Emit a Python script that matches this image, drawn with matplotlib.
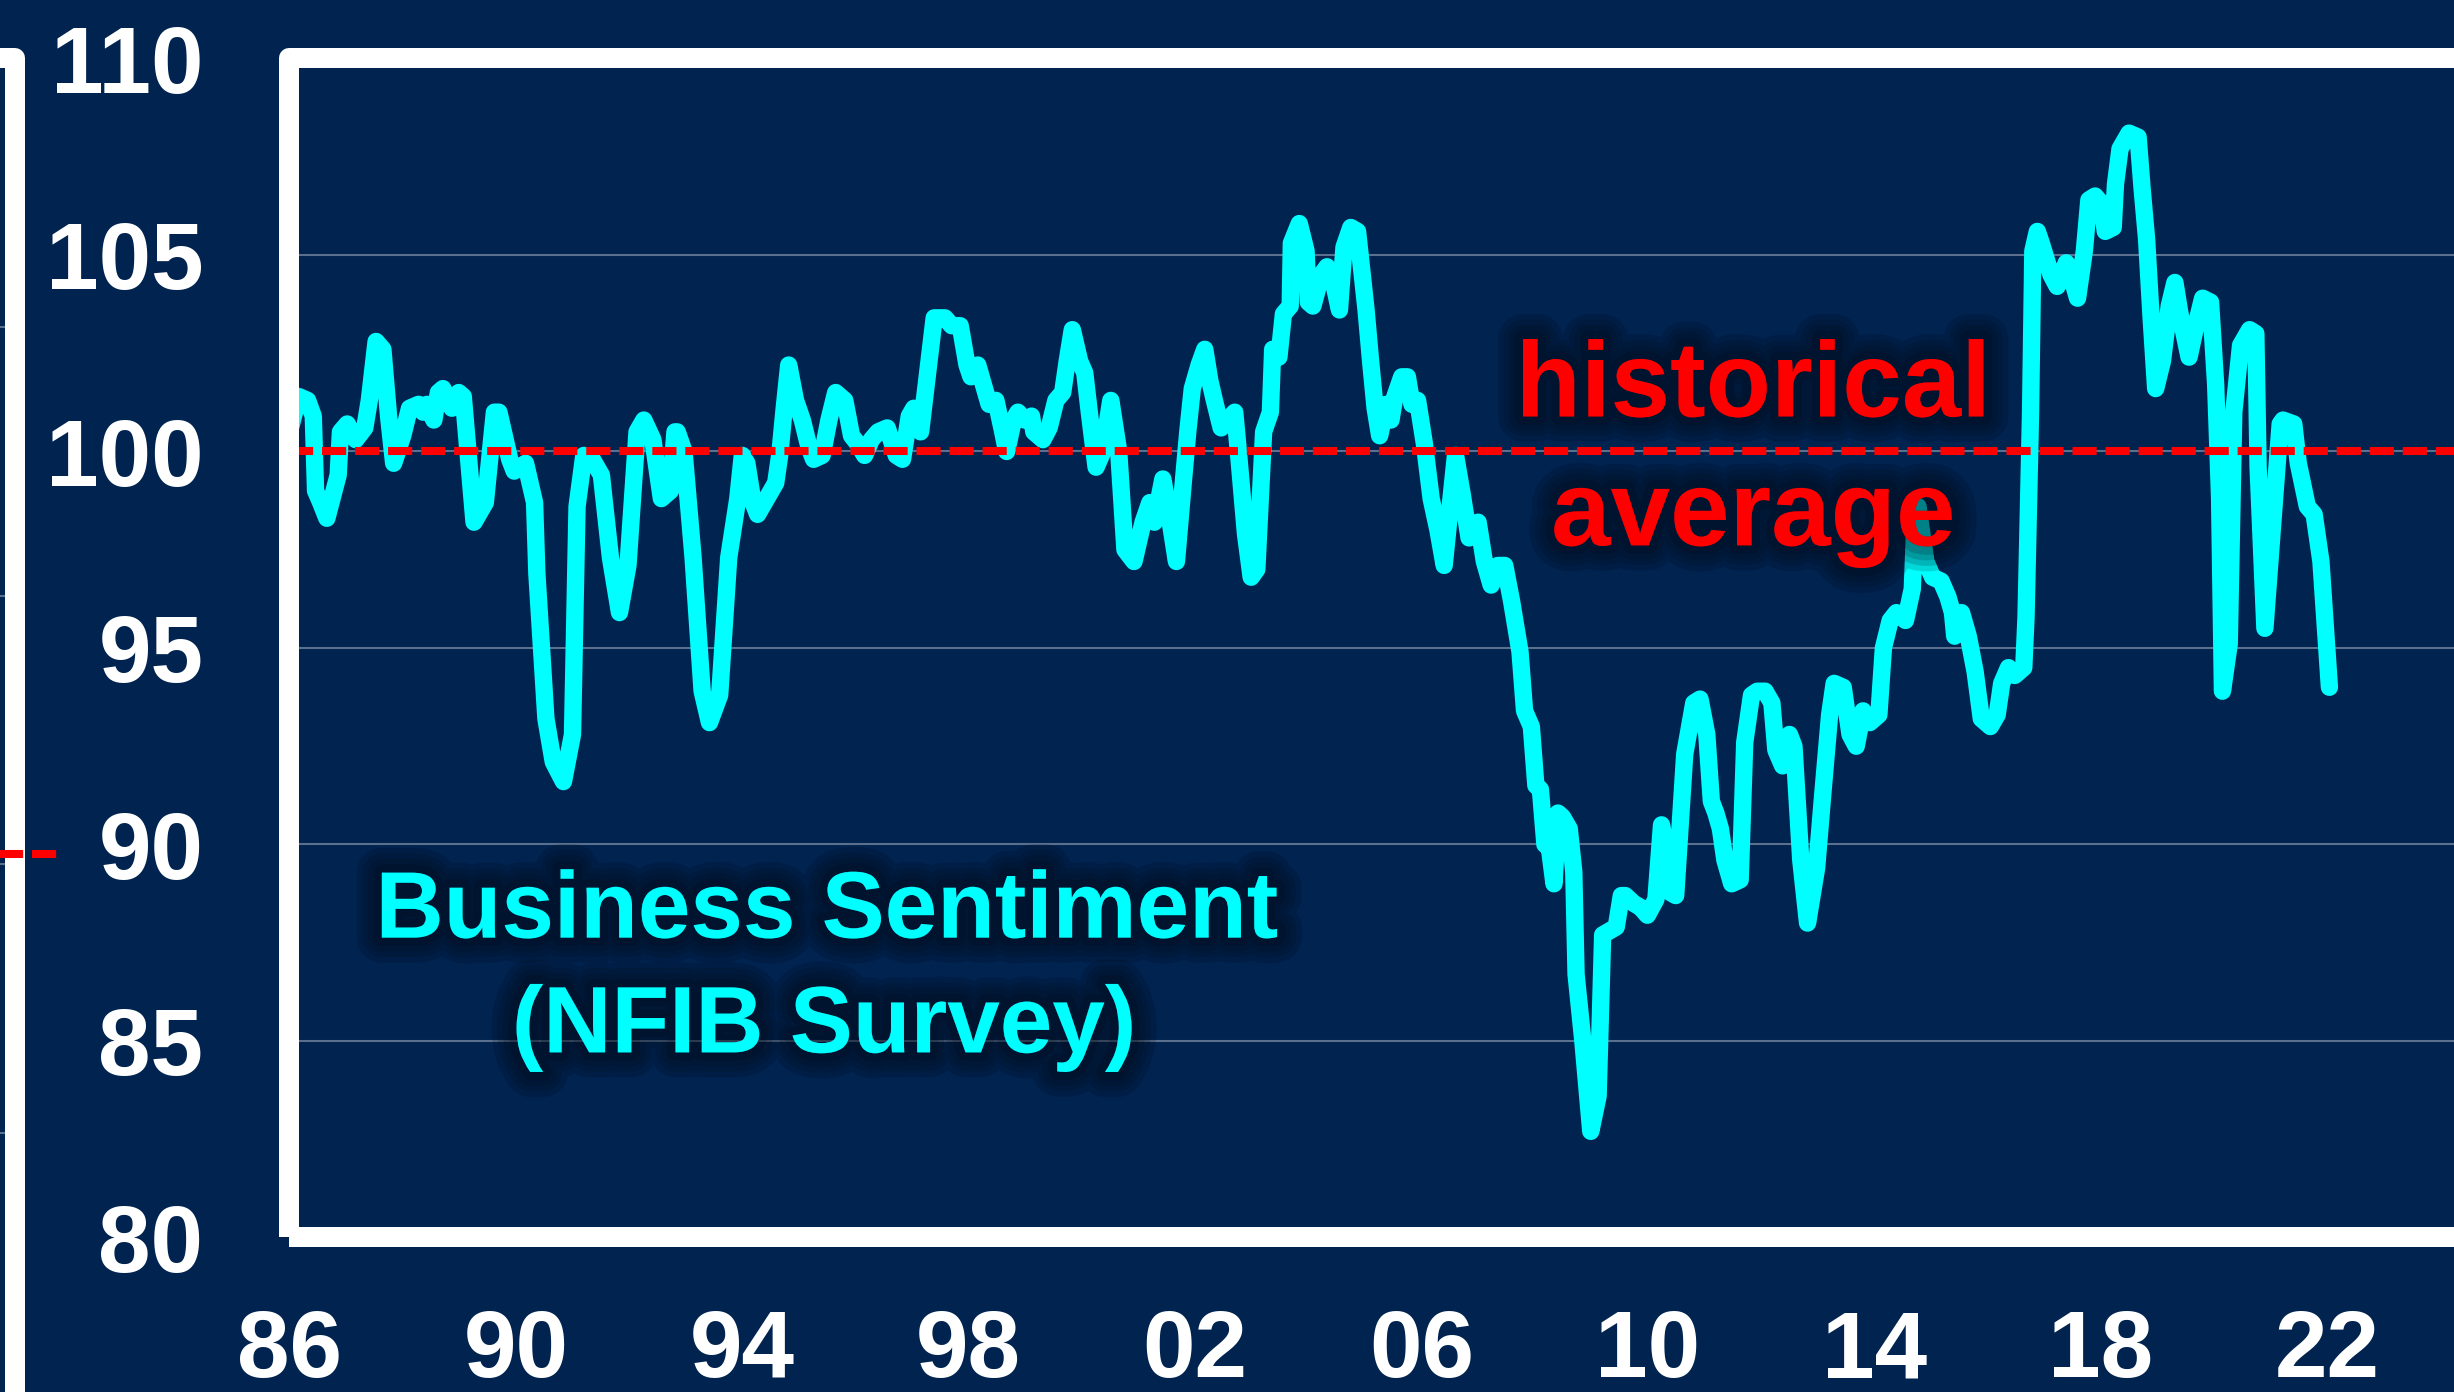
import matplotlib
matplotlib.use('Agg')
import matplotlib.pyplot as plt
import matplotlib.patheffects as pe
from matplotlib.patches import Rectangle

# ----------------------------------------------------------------------
# Data: NFIB small business optimism (decimal year)
# ----------------------------------------------------------------------
dates = [
    1986.00, 1986.16, 1986.32, 1986.42, 1986.46, 1986.55, 1986.66, 1986.86, 1986.90,
    1987.02, 1987.17, 1987.33, 1987.41, 1987.53, 1987.65, 1987.75, 1987.84,
    1988.00, 1988.12, 1988.28, 1988.36, 1988.43, 1988.55, 1988.63, 1988.71, 1988.87, 1988.99,
    1989.07, 1989.26, 1989.46, 1989.62, 1989.70, 1989.89, 1989.97,
    1990.17, 1990.33, 1990.37, 1990.53, 1990.66, 1990.84,
    1991.00, 1991.08, 1991.20, 1991.35, 1991.51, 1991.67, 1991.83, 1991.98,
    1992.14, 1992.26, 1992.42, 1992.57, 1992.73, 1992.81, 1992.85, 1992.97,
    1993.13, 1993.29, 1993.42, 1993.60, 1993.76, 1993.92,
    1994.00, 1994.08, 1994.19, 1994.27, 1994.43, 1994.59, 1994.66, 1994.74, 1994.82, 1994.94,
    1995.06, 1995.18, 1995.26, 1995.41, 1995.53, 1995.65, 1995.81, 1995.93,
    1996.04, 1996.16, 1996.28, 1996.40, 1996.56, 1996.72, 1996.83, 1996.95,
    1997.03, 1997.15, 1997.39, 1997.58, 1997.70, 1997.85, 1997.97,
    1998.04, 1998.16, 1998.28, 1998.36, 1998.48, 1998.60, 1998.67, 1998.79, 1998.87, 1998.99,
    1999.11, 1999.15, 1999.31, 1999.42, 1999.54, 1999.66, 1999.74, 1999.83, 1999.96,
    2000.05, 2000.13, 2000.25, 2000.37, 2000.51, 2000.65, 2000.76, 2000.92,
    2001.08, 2001.20, 2001.28, 2001.43, 2001.55, 2001.67, 2001.79, 2001.87, 2001.95,
    2002.07, 2002.17, 2002.26, 2002.34, 2002.46, 2002.58, 2002.70, 2002.77, 2002.89, 2002.99,
    2003.09, 2003.21, 2003.33, 2003.37, 2003.48, 2003.56, 2003.68, 2003.70, 2003.84, 2003.96,
    2004.00, 2004.08, 2004.23, 2004.33, 2004.43, 2004.55, 2004.63, 2004.75, 2004.87,
    2005.02, 2005.10, 2005.18, 2005.26, 2005.38, 2005.46, 2005.53, 2005.65, 2005.75, 2005.83, 2005.93,
    2006.05, 2006.17, 2006.29, 2006.40, 2006.52, 2006.60, 2006.72, 2006.84,
    2007.00, 2007.11, 2007.23, 2007.35, 2007.47, 2007.59, 2007.74, 2007.82, 2007.94,
    2008.02, 2008.10, 2008.18, 2008.26, 2008.34, 2008.41, 2008.49, 2008.61, 2008.69, 2008.73, 2008.85, 2008.99,
    2009.12, 2009.20, 2009.32, 2009.44, 2009.53, 2009.60, 2009.75, 2009.87, 2009.99,
    2010.14, 2010.24, 2010.33, 2010.37, 2010.49, 2010.65, 2010.81, 2010.92,
    2011.04, 2011.12, 2011.20, 2011.28, 2011.36, 2011.48, 2011.63, 2011.71, 2011.83, 2011.93,
    2012.07, 2012.19, 2012.26, 2012.38, 2012.50, 2012.58, 2012.70, 2012.82, 2012.98,
    2013.09, 2013.21, 2013.29, 2013.45, 2013.57, 2013.68, 2013.80, 2013.92,
    2014.08, 2014.16, 2014.28, 2014.39, 2014.55, 2014.67, 2014.71, 2014.77, 2014.91,
    2015.03, 2015.18, 2015.30, 2015.38, 2015.42, 2015.54, 2015.66, 2015.78, 2015.89,
    2016.05, 2016.17, 2016.25, 2016.37, 2016.48, 2016.64, 2016.68, 2016.76, 2016.80, 2016.88, 2016.95,
    2017.12, 2017.23, 2017.39, 2017.47, 2017.59, 2017.71, 2017.79, 2017.90,
    2018.02, 2018.08, 2018.22, 2018.26, 2018.34, 2018.50, 2018.66, 2018.73, 2018.81, 2018.89, 2018.97,
    2019.09, 2019.21, 2019.31, 2019.40, 2019.56, 2019.68, 2019.80, 2019.94,
    2020.03, 2020.10, 2020.15, 2020.27, 2020.35, 2020.47, 2020.63, 2020.74, 2020.78, 2020.90,
    2021.17, 2021.22, 2021.41, 2021.49, 2021.65, 2021.77, 2021.89, 2022.04,
]
nfib = [
    100.5, 101.4, 101.3, 100.9, 99.0, 98.7, 98.3, 99.4, 100.5,
    100.7, 100.3, 100.6, 101.3, 102.8, 102.6, 100.9, 99.7,
    100.4, 101.1, 101.2, 101.0, 101.2, 100.8, 101.5, 101.6, 101.1, 101.5,
    101.4, 98.2, 98.7, 101.0, 101.0, 99.8, 99.5,
    99.7, 98.7, 96.9, 93.2, 92.1, 91.6,
    92.8, 98.6, 99.9, 99.8, 99.4, 97.3, 95.9, 97.1,
    100.5, 100.8, 100.3, 98.8, 99.0, 100.5, 100.5, 100.0,
    97.3, 93.9, 93.1, 93.8, 97.3, 98.8,
    99.9, 99.7, 98.7, 98.4, 98.8, 99.2, 99.9, 101.1, 102.2, 101.3,
    100.8, 100.1, 99.8, 99.9, 100.8, 101.5, 101.3, 100.4,
    100.2, 99.9, 100.3, 100.5, 100.6, 99.9, 99.8, 100.9,
    101.1, 100.5, 103.4, 103.4, 103.2, 103.2, 102.2,
    101.9, 102.2, 101.6, 101.2, 101.3, 100.5, 100.0, 100.8, 101.0, 100.8,
    100.9, 100.5, 100.3, 100.6, 101.3, 101.5, 102.3, 103.1, 102.3,
    102.0, 101.0, 99.6, 100.0, 101.3, 100.0, 97.5, 97.2,
    98.2, 98.7, 98.2, 99.3, 98.3, 97.2, 99.2, 100.5, 101.6,
    102.2, 102.6, 101.8, 101.3, 100.6, 100.8, 101.0, 99.9, 97.9, 96.8,
    97.0, 100.5, 101.0, 102.6, 102.4, 103.5, 103.7, 105.3, 105.8, 105.1,
    103.8, 103.7, 104.5, 104.7, 104.4, 103.6, 105.2, 105.7, 105.6,
    103.6, 102.3, 101.1, 100.4, 101.2, 100.8, 101.4, 101.9, 101.9, 101.2, 101.3,
    100.2, 98.8, 98.0, 97.1, 98.8, 99.9, 98.9, 97.8,
    98.2, 97.2, 96.6, 97.1, 97.1, 96.2, 94.9, 93.4, 93.0,
    91.5, 91.4, 90.0, 89.9, 89.0, 90.8, 90.7, 90.4, 89.3, 86.7, 85.0, 82.7,
    83.6, 87.7, 87.8, 87.9, 88.7, 88.7, 88.5, 88.4, 88.2,
    88.6, 90.5, 89.8, 88.8, 88.7, 92.3, 93.6, 93.7,
    92.8, 91.1, 90.8, 90.4, 89.6, 89.0, 89.1, 92.6, 93.8, 93.9,
    93.9, 93.6, 92.4, 92.0, 92.8, 92.5, 89.6, 88.0, 89.4,
    91.3, 93.3, 94.1, 94.0, 92.8, 92.5, 93.4, 93.1,
    93.3, 95.0, 95.7, 95.9, 95.7, 96.5, 97.9, 98.6, 97.2,
    96.8, 96.7, 96.3, 95.9, 95.3, 95.9, 95.3, 94.4, 93.2,
    93.0, 93.3, 94.1, 94.5, 94.3, 94.5, 95.8, 101.0, 105.1, 105.6, 105.3,
    104.5, 104.2, 104.8, 104.5, 103.9, 105.1, 106.4, 106.5,
    106.3, 105.6, 105.7, 106.8, 107.7, 108.1, 108.0, 106.7, 105.4, 103.4, 101.6,
    102.3, 103.7, 104.3, 103.5, 102.4, 103.2, 103.9, 103.8,
    101.7, 98.8, 93.9, 95.1, 101.0, 102.7, 103.1, 103.0, 99.6, 95.5,
    100.7, 100.8, 100.7, 99.7, 98.6, 98.4, 97.2, 94.0,
]

hist_avg = 100
y_ticks = [80, 85, 90, 95, 100, 105, 110]
grid_levels = [85, 90, 95, 100, 105]
x_ticks = [1986, 1990, 1994, 1998, 2002, 2006, 2010, 2014, 2018, 2022]
x_labels = ['86', '90', '94', '98', '02', '06', '10', '14', '18', '22']

# neighbouring panel cut off at the far left (only its right edge shows)
left_grid = [2, 3, 4, 5]
left_avg = 3.04
left_avg_span = [0, 1.27]

# ----------------------------------------------------------------------
# Style
# ----------------------------------------------------------------------
NAVY = '#00234F'
CYAN = '#00FFFF'
RED = '#FF0000'
GRID = '#5B6F8E'
FONT = ['Liberation Sans', 'DejaVu Sans']

plt.rcParams['font.family'] = FONT
plt.rcParams['font.weight'] = 'bold'

W, H, DPI = 24.54, 13.92, 100
fig = plt.figure(figsize=(W, H), dpi=DPI, facecolor=NAVY)

FRAME_LW = 14.4


def glow():
    return [pe.Stroke(linewidth=w, foreground='#000814', alpha=0.16)
            for w in (36, 28, 20, 12)] + [pe.Normal()]


# ----------------------------------------------------------------------
# Left neighbour panel (just a sliver)
# ----------------------------------------------------------------------
ax2 = fig.add_axes([-0.06, -0.2, 0.0661, 1.158])
ax2.set_facecolor(NAVY)
ax2.set_xlim(0, 1)
ax2.set_ylim(0, 6)
for s in ax2.spines.values():
    s.set_visible(False)
ax2.set_xticks([])
ax2.set_yticks([])
for g in left_grid:
    ax2.axhline(g, color=GRID, lw=1.5, zorder=1)
ax2.plot(left_avg_span, [left_avg, left_avg], color=RED, lw=5.8,
         dashes=(3, 1.1), clip_on=False, zorder=5)
ax2.add_patch(Rectangle((0, 0), 1, 1, transform=ax2.transAxes, fill=False,
                        edgecolor='white', lw=FRAME_LW, joinstyle='round',
                        clip_on=False, zorder=4))

# ----------------------------------------------------------------------
# Main panel
# ----------------------------------------------------------------------
ax = fig.add_axes([0.11797, 0.1110, 0.9226, 0.8470])
ax.set_facecolor(NAVY)
ax.set_xlim(1986, 2026)
ax.set_ylim(80, 110)

for s in ax.spines.values():
    s.set_visible(False)

for g in grid_levels:
    ax.axhline(g, color=GRID, lw=1.5, zorder=1)

ax.plot(dates, nfib, color=CYAN, lw=12.5, solid_joinstyle='round',
        solid_capstyle='round', zorder=3)

ax.axhline(hist_avg, color=RED, lw=5.8, dashes=(3, 1.1), zorder=4)

ax.add_patch(Rectangle((0, 0), 1, 1, transform=ax.transAxes, fill=False,
                       edgecolor='white', lw=FRAME_LW, joinstyle='round',
                       clip_on=False, zorder=6))

ax.set_yticks(y_ticks)
ax.set_yticklabels([str(v) for v in y_ticks])
ax.set_xticks(x_ticks)
ax.set_xticklabels(x_labels)
ax.tick_params(axis='y', length=0, pad=62, labelsize=68, labelcolor='white')
ax.tick_params(axis='x', length=0, pad=51, labelsize=68, labelcolor='white')
for lab in ax.get_xticklabels() + ax.get_yticklabels():
    lab.set_fontweight('bold')
    lab.set_family(FONT)

# annotations
ax.text(2011.86, 100.89, 'historical', color=RED, fontsize=77,
        fontweight='bold', ha='center', va='baseline', zorder=8,
        path_effects=glow())
ax.text(2011.86, 97.61, 'average', color=RED, fontsize=77,
        fontweight='bold', ha='center', va='baseline', zorder=8,
        path_effects=glow())
ax.text(1995.50, 87.63, 'Business Sentiment', color=CYAN, fontsize=68,
        fontweight='bold', ha='center', va='baseline', zorder=8,
        path_effects=glow())
ax.text(1995.45, 84.71, '(NFIB Survey)', color=CYAN, fontsize=68,
        fontweight='bold', ha='center', va='baseline', zorder=8,
        path_effects=glow())

fig.savefig('out.png', dpi=DPI, facecolor=NAVY)
